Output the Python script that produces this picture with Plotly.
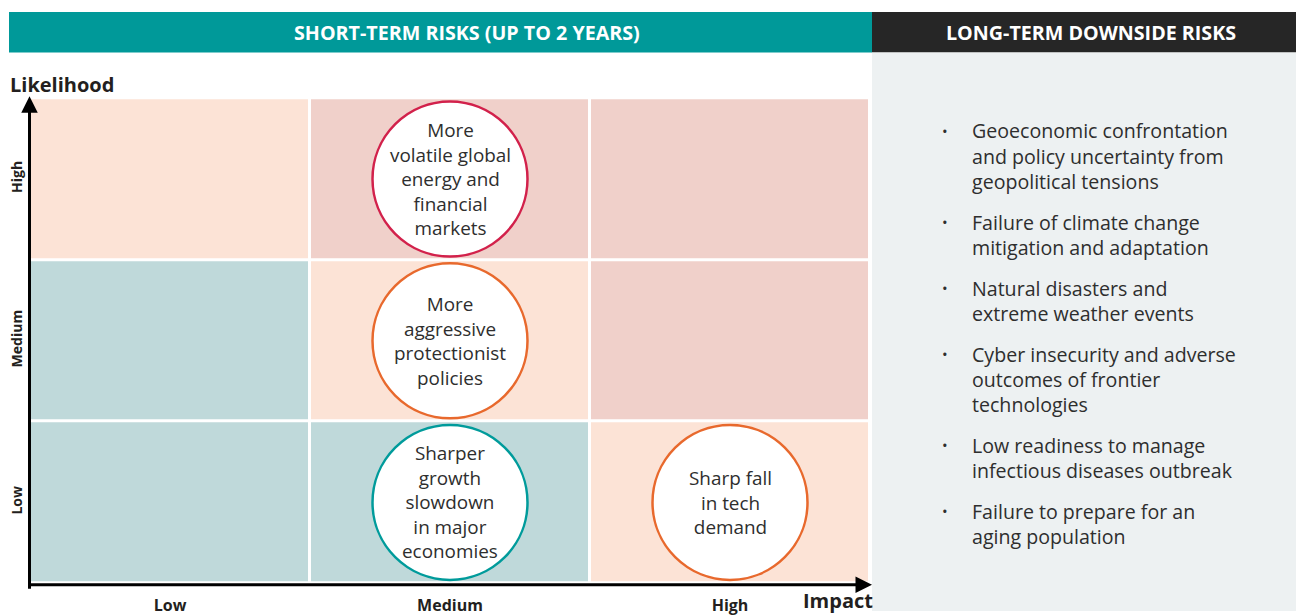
import plotly.graph_objects as go

W, H = 1296, 616

# ---------------- data ----------------
impact_levels = ["Low", "Medium", "High"]
likelihood_levels = ["Low", "Medium", "High"]
impact_ticktext = ["<b>Low</b>", "<b>Medium</b>", "<b>High</b>"]
likelihood_ticktext = ["<b>Low</b>", "<b>Medium</b>", "<b>High</b>"]

# zone of each cell: rows = likelihood (Low..High), cols = impact (Low..High)
cell_zone = [
    [0, 0, 1],
    [0, 1, 2],
    [1, 2, 2],
]
zone_colors = ["#BFD9DA", "#FCE3D6", "#F0D0CA"]

risk_labels = [
    "More<br>volatile global<br>energy and<br>financial<br>markets",
    "More<br>aggressive<br>protectionist<br>policies",
    "Sharper<br>growth<br>slowdown<br>in major<br>economies",
    "Sharp fall<br>in tech<br>demand",
]
risk_impact = ["Medium", "Medium", "Medium", "High"]
risk_likelihood = ["High", "Medium", "Low", "Low"]
risk_colors = ["#D2214B", "#E8692D", "#009B9B", "#E8692D"]

long_term_risks = [
    ["Geoeconomic confrontation", "and policy uncertainty from", "geopolitical tensions"],
    ["Failure of climate change", "mitigation and adaptation"],
    ["Natural disasters and", "extreme weather events"],
    ["Cyber insecurity and adverse", "outcomes of frontier", "technologies"],
    ["Low readiness to manage", "infectious diseases outbreak"],
    ["Failure to prepare for an", "aging population"],
]

short_title = "SHORT-TERM RISKS (UP TO 2 YEARS)"
long_title = "LONG-TERM DOWNSIDE RISKS"

# ---------------- style ----------------
FONT = "Open Sans"
TXT = "#2E2E2E"
DARK = "#231F20"


def px_x(p):
    return p / W


def px_y(p):
    return (H - p) / H


ix = list(range(len(impact_levels)))
iy = list(range(len(likelihood_levels)))
risk_x = [impact_levels.index(v) for v in risk_impact]
risk_y = [likelihood_levels.index(v) for v in risk_likelihood]

fig = go.Figure()

fig.add_trace(go.Heatmap(
    x=ix, y=iy, z=cell_zone,
    colorscale=[[0, zone_colors[0]], [0.5, zone_colors[1]], [1, zone_colors[2]]],
    zmin=0, zmax=2, showscale=False, xgap=3, ygap=3, hoverinfo="skip",
))

fig.add_trace(go.Scatter(
    x=risk_x, y=risk_y, mode="markers",
    marker=dict(size=155, color="white", line=dict(color=risk_colors, width=2.5)),
    cliponaxis=False, hoverinfo="skip", showlegend=False,
))

shapes = [
    dict(type="rect", xref="paper", yref="paper", x0=px_x(9), x1=px_x(872),
         y0=px_y(53), y1=px_y(12), fillcolor="#009999", line_width=0, layer="below"),
    dict(type="rect", xref="paper", yref="paper", x0=px_x(872), x1=1,
         y0=px_y(53), y1=px_y(12), fillcolor="#262626", line_width=0, layer="below"),
    dict(type="rect", xref="paper", yref="paper", x0=px_x(872), x1=1,
         y0=0, y1=px_y(53), fillcolor="#EDF1F2", line_width=0, layer="below"),
]

annotations = [
    dict(text="<b>" + short_title + "</b>", xref="paper", yref="paper",
         x=px_x(467), y=px_y(33), xanchor="center", yanchor="middle", showarrow=False,
         font=dict(family=FONT, size=19.7, color="white")),
    dict(text="<b>" + long_title + "</b>", xref="paper", yref="paper",
         x=px_x(1091), y=px_y(33), xanchor="center", yanchor="middle", showarrow=False,
         font=dict(family=FONT, size=19.7, color="white")),
    dict(text="<b>Likelihood</b>", xref="paper", yref="paper",
         x=px_x(8), y=px_y(85), xanchor="left", yanchor="middle", showarrow=False,
         font=dict(family=FONT, size=20, color=DARK)),
    dict(text="<b>Impact</b>", xref="paper", yref="paper",
         x=px_x(838), y=px_y(605), xanchor="center", yanchor="middle", showarrow=False,
         font=dict(family=FONT, size=20, color=DARK)),
    # axis arrows (paper-referenced so they are never hidden)
    dict(x=px_x(872), y=px_y(589.5), ax=-843, ay=0, xref="paper", yref="paper",
         axref="pixel", ayref="pixel",
         text="", showarrow=True, arrowhead=2, arrowsize=1.1, arrowwidth=3,
         arrowcolor="black", standoff=0, startstandoff=0),
    dict(x=px_x(29.5), y=px_y(97), ax=0, ay=494, xref="paper", yref="paper",
         axref="pixel", ayref="pixel",
         text="", showarrow=True, arrowhead=2, arrowsize=1.1, arrowwidth=3,
         arrowcolor="black", standoff=0, startstandoff=0),
]

# risk labels inside the circles, anchored on the data positions
for lbl, rx, ry in zip(risk_labels, risk_x, risk_y):
    annotations.append(dict(text=lbl, x=rx, y=ry, xref="x", yref="y",
                            xanchor="center", yanchor="middle", showarrow=False,
                            font=dict(family=FONT, size=18.9, color=TXT)))

# long-term bullets
y0 = 132
line_h = 25.5
item_gap = 15.5
y = y0
for item in long_term_risks:
    annotations.append(dict(text="•", xref="paper", yref="paper", x=px_x(945), y=px_y(y),
                            xanchor="center", yanchor="middle",
                            showarrow=False, font=dict(family=FONT, size=15, color=TXT)))
    for line in item:
        annotations.append(dict(text=line, xref="paper", yref="paper", x=px_x(970), y=px_y(y),
                                xanchor="left", yanchor="middle", showarrow=False,
                                font=dict(family=FONT, size=19.6, color=TXT)))
        y += line_h
    y += item_gap

fig.update_layout(
    width=W, height=H, margin=dict(l=0, r=0, t=0, b=0),
    paper_bgcolor="white", plot_bgcolor="white",
    shapes=shapes, annotations=annotations, showlegend=False,
    xaxis=dict(domain=[px_x(30), px_x(870)], range=[-0.5, 2.5],
               tickmode="array", tickvals=ix, ticktext=impact_ticktext,
               showgrid=False, zeroline=False, showline=False, ticks="",
               tickfont=dict(family=FONT, size=16, color=DARK), ticklabelstandoff=11,
               fixedrange=True),
    yaxis=dict(domain=[px_y(588), px_y(99)], range=[-0.5, 2.5],
               tickmode="array", tickvals=iy, ticktext=likelihood_ticktext,
               tickangle=-90, showgrid=False, zeroline=False, showline=False, ticks="",
               tickfont=dict(family=FONT, size=14, color=DARK), ticklabelstandoff=4,
               fixedrange=True),
)

fig.write_html("out.html", config={"displayModeBar": False},
               post_script="document.body.style.margin='0';document.body.style.overflow='hidden';")
